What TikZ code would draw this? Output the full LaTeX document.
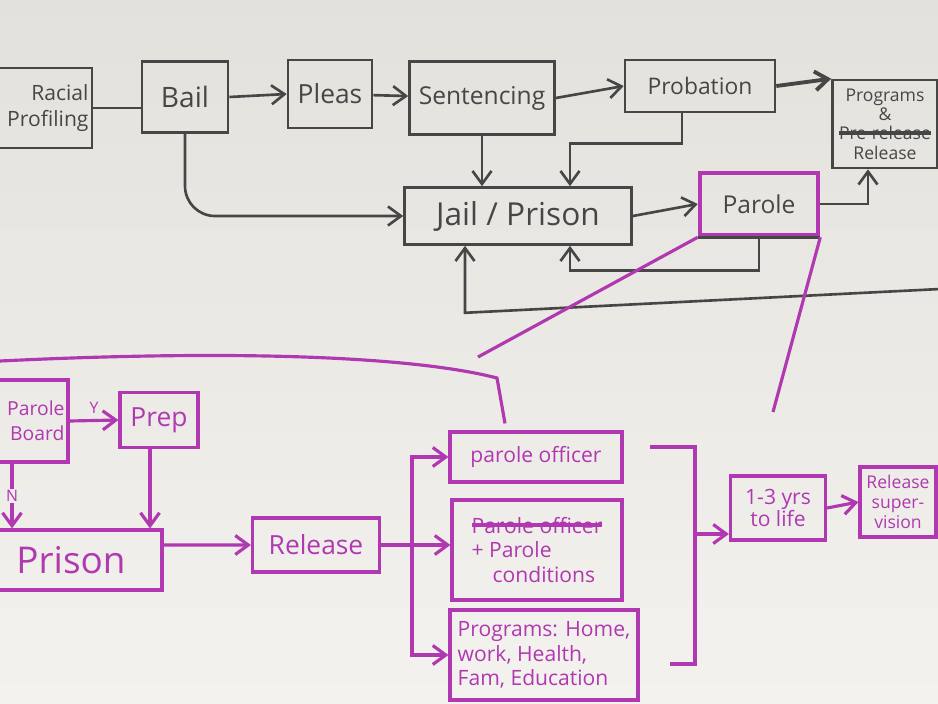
\documentclass[tikz,border=0pt]{standalone}
\usepackage{fontspec}
\setmainfont{Open Sans}
\usetikzlibrary{positioning,arrows.meta,calc}
\definecolor{ink}{RGB}{70,70,70}
\definecolor{mag}{RGB}{176,56,176}
\definecolor{board}{RGB}{238,237,233}
\newcommand\strk[1]{\leavevmode\sbox0{#1}\rlap{\raisebox{0.28em}{\rule{\wd0}{2.4pt}}}\usebox0}
\tikzset{
  flow/.style={-{Straight Barb[length=2.6mm,width=3.8mm]}, line width=1.5pt},
  every node/.style={anchor=center}
}

\begin{document}
\begin{tikzpicture}[x=0.02cm, y=-0.02cm,
  line/.style={flow, draw=ink},
  mline/.style={flow, draw=mag, line width=1.8pt},
  box/.style={draw=ink, line width=1.5pt, text=ink, align=center, inner sep=2pt},
  mbox/.style={box, draw=mag, text=mag, line width=1.8pt},
  plain/.style={draw=ink, line width=1.5pt},
  mplain/.style={draw=mag, line width=1.8pt}
]
\useasboundingbox (0,0) rectangle (938,704);
\clip (0,0) rectangle (938,704);
\fill[top color={rgb,255:red,226;green,225;blue,220}, bottom color={rgb,255:red,244;green,242;blue,238}] (0,0) rectangle (938,704);

% court track
\node[box, font=\fontsize{12}{15}\selectfont, text width=2.3cm, inner xsep=0.07cm, align=right, minimum height=1.6cm] (prof) at (31,108) {Racial\\Profiling};
\node[box, font=\fontsize{16}{18}\selectfont, minimum width=1.72cm, minimum height=1.42cm] (bail) at (185,97) {Bail};
\node[box, font=\fontsize{15}{17}\selectfont, minimum width=1.68cm, minimum height=1.36cm] (pleas) at (330,94) {Pleas};
\node[box, font=\fontsize{14}{16}\selectfont, minimum width=2.9cm, minimum height=1.46cm] (sent) at (482,98) {Sentencing};
\node[box, font=\fontsize{13}{15}\selectfont, minimum width=3.0cm, minimum height=1.04cm] (prob) at (700,86) {Probation};
\node[box, font=\fontsize{10}{11}\selectfont, minimum width=2.1cm, minimum height=1.76cm] (prog) at (885,124) {Programs\\\&\\\strk{Pre-release}\\Release};
\node[box, font=\fontsize{18}{20}\selectfont, minimum width=4.54cm, minimum height=1.14cm] (jail) at (518,216) {Jail / Prison};
\node[box, draw=mag, line width=2.6pt, font=\fontsize{14}{16}\selectfont, minimum width=2.36cm, minimum height=1.24cm] (parole) at (759,204) {Parole};
\draw[plain] (parole.south west) -- (parole.south east);

\draw[plain] (prof.east) -- (bail.west |- prof.east);
\draw[line] (bail.east) -- (pleas.west);
\draw[line] (pleas) -- (sent);
\draw[line] (sent.east) -- (prob.west);
\draw[line, line width=2.2pt] (prob.east) -- (prog.north west);
\draw[line] (sent.south) -- (sent.south |- jail.north);
\draw[line] ([xshift=-0.36cm]prob.south) -- ++(0,30) -| ([xshift=1.04cm]jail.north);
\draw[line, rounded corners=0.6cm] (bail.south) |- (jail.west);
\draw[line] (jail.east) -- (parole.west);
\draw[line] (parole.east) -| ([xshift=-0.34cm]prog.south);
\draw[line] (parole.south) -- ++(0,33) -| ([xshift=1.04cm]jail.south);
\coordinate (offr) at (960,288);
\draw[line] (offr) -- ([xshift=-1.06cm, yshift=-1.34cm]jail.south) -- ([xshift=-1.06cm]jail.south);

% zoom into parole
\coordinate (zl) at (478,357);
\coordinate (zr) at (773,412);
\draw[mplain] (parole.south west) -- (zl);
\draw[mplain] (parole.south east) -- (zr);

% parole track
\node[mbox, font=\fontsize{11}{14}\selectfont, text width=2.02cm, inner xsep=0.07cm, align=right, minimum height=1.64cm] (pboard) at (14,421) {Parole\\Board};
\node[mbox, font=\fontsize{15}{17}\selectfont, minimum width=1.56cm, minimum height=1.1cm] (prep) at (159,420) {Prep};
\node[mbox, font=\fontsize{21}{23}\selectfont, minimum width=3.64cm, minimum height=1.2cm] (prison) at (71,560) {Prison};
\node[mbox, font=\fontsize{15}{17}\selectfont, minimum width=2.54cm, minimum height=1.08cm] (release) at (316,545) {Release};
\node[mbox, font=\fontsize{12}{14}\selectfont, minimum width=3.44cm, minimum height=1.0cm] (officer) at (536,457) {parole officer};
\node[mbox, font=\fontsize{12}{14}\selectfont, minimum width=3.4cm, minimum height=2.0cm, align=left] (cond) at (537,550) {\strk{Parole officer}\\+ Parole\\\quad conditions};
\node[mbox, font=\fontsize{12}{14}\selectfont, minimum width=3.76cm, minimum height=1.8cm, align=left] (progs) at (544,655) {Programs: Home,\\work, Health,\\Fam, Education};
\node[mbox, font=\fontsize{12}{13}\selectfont, minimum width=1.9cm, minimum height=1.28cm] (life) at (778,508) {1-3 yrs\\to life};
\node[mbox, font=\fontsize{10}{11.5}\selectfont, minimum width=1.52cm, minimum height=1.4cm] (relsup) at (898,502) {Release\\super-\\vision};

\coordinate (offl) at (-20,362);
\coordinate (brk) at (497,378);
\draw[mplain] (offl) .. controls (250,348) and (420,358) .. (brk) -- ([xshift=-0.62cm, yshift=0.14cm]officer.north);
\draw[mline] (pboard.east) -- node[above, text=mag, font=\small] {Y} (prep.west);
\draw[mline] ([xshift=-0.04cm]pboard.south) -- node[fill=board, text=mag, font=\small, inner sep=1pt] {N} ([xshift=-0.04cm]pboard.south |- prison.north);
\draw[mline] ([xshift=-0.18cm]prep.south) -- ([xshift=-0.18cm]prep.south |- prison.north);
\draw[mline] ([yshift=0.3cm]prison.east) -- (release.west);
\coordinate (fork) at (412,545);
\draw[mplain] (release.east) -- (fork);
\draw[mline] (fork) |- (officer.west);
\draw[mline] (fork) -- (cond.west |- fork);
\draw[mline] (fork) |- (progs.west);
\coordinate (bt) at (650,447);
\coordinate (bm) at (695,534);
\coordinate (bb) at (670,664);
\draw[mplain] (bt) -| (bm) |- (bb);
\draw[mline] (bm) -- (life.west |- bm);
\draw[mline] (life.east) -- (relsup.west);
\end{tikzpicture}
\end{document}
